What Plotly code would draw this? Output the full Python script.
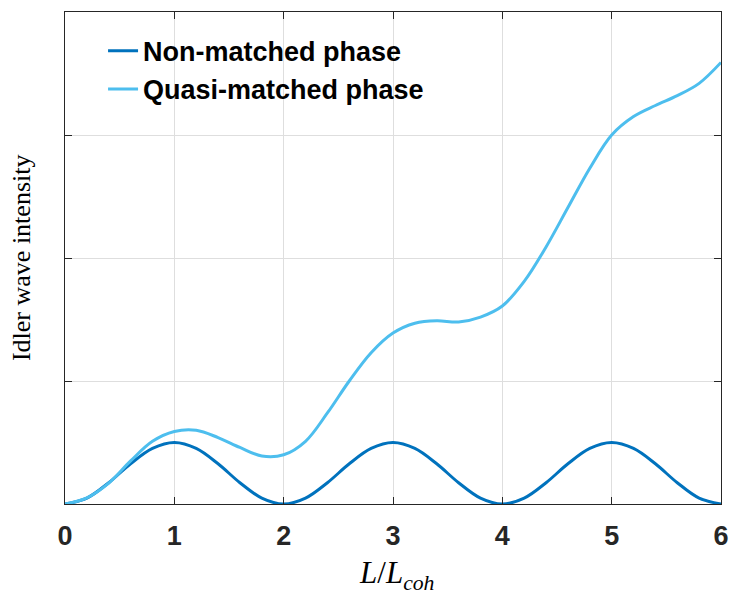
import plotly.graph_objects as go

# Normalised crystal length L / L_coh, sampled every 0.2
x_len = [0, 0.2, 0.4, 0.6, 0.8, 1.0, 1.2, 1.4, 1.6, 1.8, 2.0, 2.2, 2.4, 2.6, 2.8, 3.0,
         3.2, 3.4, 3.6, 3.8, 4.0, 4.2, 4.4, 4.6, 4.8, 5.0, 5.2, 5.4, 5.6, 5.8, 6.0]

# Idler intensity without phase matching (oscillates with period 2 L_coh)
y_non = [0, 0.048, 0.173, 0.327, 0.452, 0.5, 0.452, 0.327, 0.173, 0.048, 0,
         0.048, 0.173, 0.327, 0.452, 0.5, 0.452, 0.327, 0.173, 0.048, 0,
         0.048, 0.173, 0.327, 0.452, 0.5, 0.452, 0.327, 0.173, 0.048, 0]

# Idler intensity with quasi phase matching (grows step-wise)
y_qpm = [0, 0.05, 0.17, 0.35, 0.51, 0.59, 0.60, 0.54, 0.46, 0.39, 0.40,
         0.51, 0.74, 1.00, 1.23, 1.39, 1.47, 1.49, 1.48, 1.52, 1.61,
         1.81, 2.09, 2.41, 2.73, 3.00, 3.15, 3.24, 3.32, 3.42, 3.59]

x_ticks = [0, 1, 2, 3, 4, 5, 6]
y_ticks = [0, 1, 2, 3, 4]

AXIS = "#262626"
GRID = "#dedede"
SANS = "Liberation Sans, Arial, sans-serif"
SERIF = "Liberation Serif, Times New Roman, serif"

fig = go.Figure()
fig.add_trace(go.Scatter(
    x=x_len, y=y_non, mode="lines", name="Non-matched phase",
    line=dict(color="#0072BD", width=3, shape="spline", smoothing=1.0),
))
fig.add_trace(go.Scatter(
    x=x_len, y=y_qpm, mode="lines", name="Quasi-matched phase",
    line=dict(color="#4DBEEE", width=3, shape="spline", smoothing=1.0),
))

fig.update_layout(
    width=731, height=595,
    margin=dict(l=65, r=10, t=12, b=91, autoexpand=False),
    paper_bgcolor="white", plot_bgcolor="white",
    showlegend=True,
    legend=dict(
        x=0.058, y=0.97, xanchor="left", yanchor="top",
        bgcolor="rgba(0,0,0,0)", borderwidth=0,
        font=dict(family=SANS, size=27, color="black", weight="bold"),
        tracegroupgap=0, itemwidth=30,
    ),
    annotations=[
        dict(text="Idler wave intensity", xref="paper", yref="paper",
             x=-0.067, y=0.5, xanchor="center", yanchor="middle", textangle=-90,
             showarrow=False, font=dict(family=SERIF, size=26, color="black")),
        dict(text="<i>L</i>/<i>L</i><sub><i>coh</i></sub>", xref="paper", yref="paper",
             x=0.505, y=-0.145, xanchor="center", yanchor="middle", showarrow=False,
             font=dict(family=SERIF, size=31, color="black")),
    ],
)

fig.update_xaxes(
    range=[0, 6], tickvals=x_ticks, ticktext=[str(v) for v in x_ticks],
    automargin=False, ticklabelstandoff=8,
    showgrid=True, gridcolor=GRID, gridwidth=1, zeroline=False,
    showline=True, linecolor=AXIS, linewidth=1, mirror="ticks",
    ticks="inside", ticklen=7, tickwidth=1, tickcolor=AXIS,
    tickfont=dict(family=SANS, size=27, color=AXIS, weight="bold"),
)
fig.update_yaxes(
    range=[0, 4], tickvals=y_ticks, showticklabels=False, automargin=False,
    showgrid=True, gridcolor=GRID, gridwidth=1, zeroline=False,
    showline=True, linecolor=AXIS, linewidth=1, mirror="ticks",
    ticks="inside", ticklen=7, tickwidth=1, tickcolor=AXIS,
)

fig.write_html("out.html")
